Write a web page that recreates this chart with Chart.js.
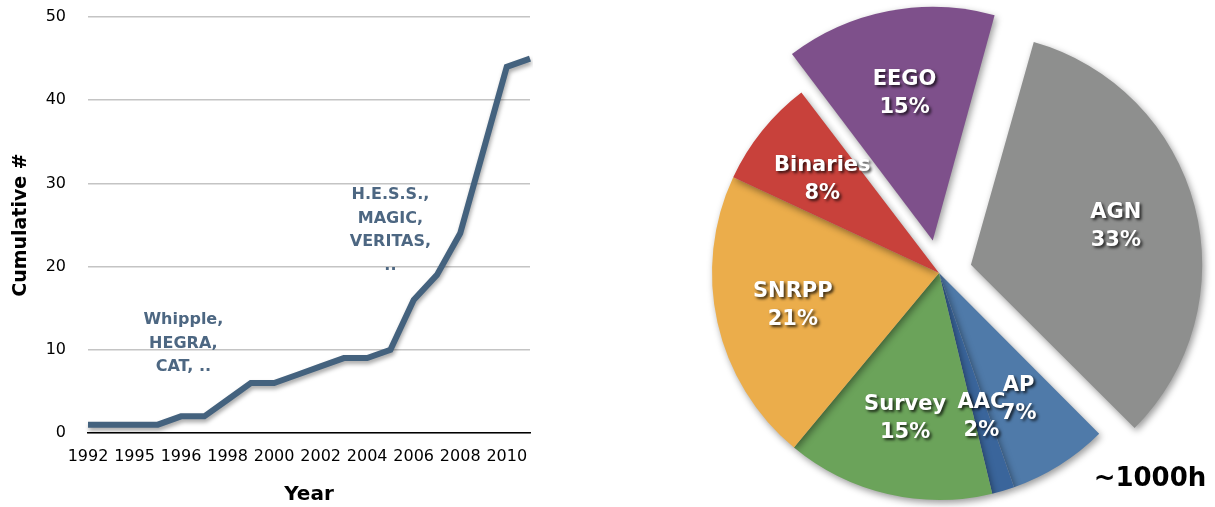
<!DOCTYPE html>
<html>
<head>
<meta charset="utf-8">
<script src="https://cdn.jsdelivr.net/npm/chart.js@4"></script>
<style>
  body { margin: 0; background: #fff; }
  #wrap { position: relative; width: 1215px; height: 507px; overflow: hidden; }
  #lineBox { position: absolute; left: 0; top: 0; width: 545px; height: 507px; }
  #pieBox { position: absolute; left: 690px; top: 0; width: 525px; height: 507px; }
  #hours { position: absolute; left: 1090px; top: 462px; width: 120px; text-align: center;
           font: bold 26px "DejaVu Sans", Verdana, sans-serif; color: #000; }
</style>
</head>
<body>
<div id="wrap">
  <div id="lineBox"><canvas id="lineChart"></canvas></div>
  <div id="pieBox"><canvas id="pieChart"></canvas></div>
  <div id="hours">~1000h</div>
</div>
<script>
const years = ["1992", "1993", "1994", "1995", "1996", "1997", "1998", "1999", "2000", "2001",
               "2002", "2003", "2004", "2005", "2006", "2007", "2008", "2009", "2010", "2011"];
const cumulative = [1, 1, 1, 1, 2, 2, 4, 6, 6, 7, 8, 9, 9, 10, 16, 19, 24, 34, 44, 45];
const yearTicks = ["1992", "1995", "1996", "1998", "2000", "2002", "2004", "2006", "2008", "2010"];
const notes = [
  { x: 4.1, y: 13.6, lines: ["Whipple,", "HEGRA,", "CAT, .."] },
  { x: 13, y: 28.6, lines: ["H.E.S.S.,", "MAGIC,", "VERITAS,", ".."] }
];

const sources = ["AGN", "AP", "AAC", "Survey", "SNRPP", "Binaries", "EEGO"];
const shares = [33.2, 7.1, 1.6, 14.8, 20.9, 7.7, 14.7];
const sliceColors = ["#8e8f8e", "#4f7aa9", "#3a659b", "#6ba35a", "#ebad4b", "#c8413b", "#7e508b"];
const exploded = [33, 0, 0, 0, 0, 0, 33];   // pixels pulled out

const FONT = "'DejaVu Sans', Verdana, sans-serif";
const TEXT_BLUE = "#4d6782";

// drop shadow under the line, then the annotations
const lineExtras = {
  id: "lineExtras",
  beforeDatasetsDraw(chart) {
    const ctx = chart.ctx;
    ctx.save();
    ctx.shadowColor = "rgba(0,0,0,0.35)";
    ctx.shadowBlur = 4;
    ctx.shadowOffsetX = 1;
    ctx.shadowOffsetY = 3;
  },
  afterDatasetsDraw(chart) {
    const ctx = chart.ctx;
    ctx.restore();
    const xs = chart.scales.x, ys = chart.scales.y;
    ctx.save();
    ctx.font = "bold 16px " + FONT;
    ctx.fillStyle = TEXT_BLUE;
    ctx.textAlign = "center";
    ctx.textBaseline = "middle";
    notes.forEach(n => {
      const px = xs.getPixelForValue(n.x);
      const py = ys.getPixelForValue(n.y);
      n.lines.forEach((t, i) => ctx.fillText(t, px, py + i * 23.5));
    });
    ctx.restore();
  }
};

new Chart(document.getElementById("lineChart"), {
  type: "line",
  data: {
    labels: years,
    datasets: [{
      data: cumulative,
      borderColor: "#44627e",
      borderWidth: 6,
      pointRadius: 0,
      tension: 0,
      fill: false
    }]
  },
  options: {
    responsive: true,
    maintainAspectRatio: false,
    animation: false,
    events: [],
    layout: { padding: { top: 17, right: 15, left: 0, bottom: 0 } },
    plugins: { legend: { display: false }, tooltip: { enabled: false } },
    scales: {
      x: {
        afterFit: s => { s.height = 74; },
        grid: { display: false, drawTicks: false },
        border: { display: true, color: "#000", width: 1.5 },
        ticks: {
          autoSkip: false, maxRotation: 0, padding: 14,
          color: "#000", font: { family: FONT, size: 16 },
          callback: (v, i) => (i % 2 === 0 ? yearTicks[i / 2] : "")
        },
        title: {
          display: true, text: "Year", color: "#000",
          font: { family: FONT, size: 20, weight: "bold" }, padding: { top: 0, bottom: 0 }
        }
      },
      y: {
        min: 0, max: 50,
        // tick padding would otherwise push the plot area down
        afterFit: s => { s.width = 88; s.paddingTop = 0; s.paddingBottom = 0; },
        grid: { color: "#c4c4c4", lineWidth: 1.5, drawTicks: false },
        border: { display: false },
        ticks: { stepSize: 10, padding: 22, color: "#000", font: { family: FONT, size: 16 } },
        title: {
          display: true, text: "Cumulative #", color: "#000",
          font: { family: FONT, size: 19, weight: "bold" }, padding: { top: 10, bottom: 0 }
        }
      }
    }
  },
  plugins: [lineExtras]
});

// shaded slices and white labels with dark shadow
const pieExtras = {
  id: "pieExtras",
  beforeDatasetsDraw(chart) {
    const ctx = chart.ctx;
    ctx.save();
    ctx.shadowColor = "rgba(0,0,0,0.4)";
    ctx.shadowBlur = 7;
    ctx.shadowOffsetX = 2;
    ctx.shadowOffsetY = 3;
  },
  afterDatasetsDraw(chart) {
    const ctx = chart.ctx;
    ctx.restore();
    const meta = chart.getDatasetMeta(0);
    ctx.save();
    ctx.font = "bold 21px " + FONT;
    ctx.fillStyle = "#fff";
    ctx.textAlign = "center";
    ctx.textBaseline = "middle";
    ctx.shadowColor = "rgba(0,0,0,0.75)";
    ctx.shadowBlur = 3;
    ctx.shadowOffsetX = 2;
    ctx.shadowOffsetY = 2;
    meta.data.forEach((arc, i) => {
      const mid = (arc.startAngle + arc.endAngle) / 2;
      const r = arc.outerRadius * 0.66 + exploded[i];
      const px = arc.x + Math.cos(mid) * r;
      const py = arc.y + Math.sin(mid) * r;
      ctx.fillText(sources[i], px, py - 14);
      ctx.fillText(Math.round(shares[i]) + "%", px, py + 14);
    });
    ctx.restore();
  }
};

new Chart(document.getElementById("pieChart"), {
  type: "pie",
  data: {
    labels: sources,
    datasets: [{
      data: shares,
      backgroundColor: sliceColors,
      borderWidth: 0,
      // Chart.js moves an arc by a quarter of its offset
      offset: exploded.map(v => v * 4)
    }]
  },
  options: {
    responsive: true,
    maintainAspectRatio: false,
    animation: false,
    events: [],
    rotation: 15.6,
    radius: 227,
    layout: { padding: { top: 39, right: 27, left: 0, bottom: 0 } },
    plugins: { legend: { display: false }, tooltip: { enabled: false } }
  },
  plugins: [pieExtras]
});
</script>
</body>
</html>
